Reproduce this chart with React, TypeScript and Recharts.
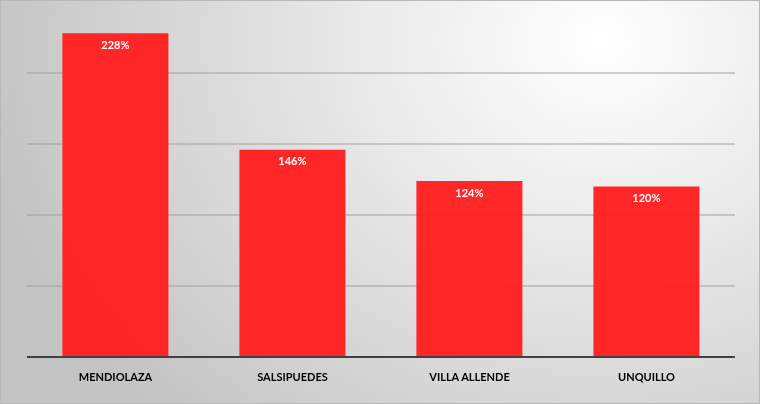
import { Bar, BarChart, CartesianGrid, LabelList, XAxis, YAxis } from "recharts";

const towns = ["MENDIOLAZA", "SALSIPUEDES", "VILLA ALLENDE", "UNQUILLO"];
const growth = [228, 146, 124, 120];
const gridTicks = [50, 100, 150, 200];
const yMax = 250;

const rows = towns.map((name, i) => ({ name, value: growth[i] }));

const FONT = "Lato, 'Open Sans', sans-serif";

export default function App() {
  return (
    <div
      style={{
        position: "fixed",
        left: 0,
        top: 0,
        width: 760,
        height: 404,
        boxSizing: "border-box",
        border: "1px solid #b8b8b8",
        background:
          "radial-gradient(ellipse 620px 520px at 600px 40px, #ffffff 0%, #e6e6e6 45%, #c4c4c4 100%)",
        fontFamily: FONT,
      }}
    >
      <BarChart
        width={758}
        height={402}
        data={rows}
        margin={{ top: 1, right: 24, left: 26, bottom: 16 }}
        barCategoryGap="20%"
      >
        <CartesianGrid
          horizontal
          vertical={false}
          stroke="#a0a0a0"
          strokeWidth={1}
          horizontalCoordinatesGenerator={({ offset }: any) =>
            offset && typeof offset.top === "number"
              ? gridTicks.map((t) => offset.top + offset.height * (1 - t / yMax))
              : []
          }
        />
        <YAxis hide domain={[0, yMax]} ticks={gridTicks} />
        <XAxis
          dataKey="name"
          height={30}
          axisLine={{ stroke: "#404040", strokeWidth: 2 }}
          tickLine={false}
          tickMargin={10}
          tick={{ fill: "#000000", fontSize: 11, fontWeight: 700, fontFamily: FONT }}
          interval={0}
        />
        <Bar dataKey="value" fill="#ff2020" fillOpacity={0.97} isAnimationActive={false}>
          <LabelList
            dataKey="value"
            position="insideTop"
            offset={8}
            formatter={(v: number) => `${v}%`}
            style={{ fill: "#ffffff", fontSize: 11, fontWeight: 700, fontFamily: FONT }}
          />
        </Bar>
      </BarChart>
    </div>
  );
}
